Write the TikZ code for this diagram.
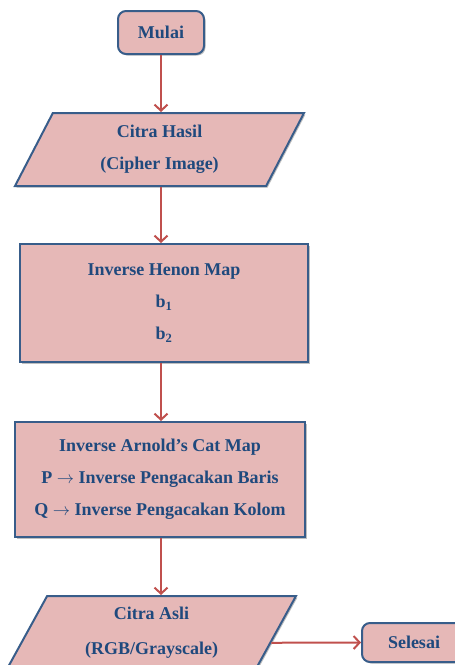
\documentclass[tikz,border=0pt]{standalone}
\usepackage{fontspec}
\setmainfont{Liberation Serif}
\usetikzlibrary{shapes.geometric,arrows.meta,shadows,calc}
\definecolor{boxfill}{RGB}{230,184,183}
\definecolor{boxline}{RGB}{56,93,138}
\definecolor{boxtext}{RGB}{31,73,125}
\definecolor{flowline}{RGB}{192,80,77}

\begin{document}
\begin{tikzpicture}
[
    x=1pt, y=-1pt,
    every node/.style={fill=boxfill, draw=boxline, line width=2pt, text=boxtext, align=center, inner sep=0pt,
        font=\fontsize{18}{32}\selectfont\bfseries,
        drop shadow={shadow xshift=1.5pt, shadow yshift=-1.5pt, opacity=0.25, fill=black}},
    terminal/.style={rounded corners=8pt},
    process/.style={rectangle},
    data/.style={trapezium, trapezium left angle=52, trapezium right angle=128, trapezium stretches body},
    flow/.style={draw=flowline, line width=2pt, -{Straight Barb[length=6pt,width=13pt]}},
]
\useasboundingbox (0,0) rectangle (455,665);
\node[terminal, minimum width=86pt, minimum height=43pt] (mulai) at (161,32.5) {Mulai};
\node[data, minimum width=289pt, minimum height=73pt] (hasil) at (159.5,149.5)
    {Citra Hasil\\(Cipher Image)};
\node[process, minimum width=288pt, minimum height=118pt] (henon) at (164,303)
    {Inverse Henon Map\\b\textsubscript{1}\\b\textsubscript{2}};
\node[process, minimum width=290pt, minimum height=115pt] (arnold) at (160,479.5)
    {Inverse Arnold's Cat Map\\P $\rightarrow$ Inverse Pengacakan Baris\\Q $\rightarrow$ Inverse Pengacakan Kolom};
\node[data, minimum width=289pt, minimum height=73pt] (asli) at (151.5,632.5)
    {Citra Asli\\[3pt](RGB/Grayscale)};
\node[terminal, minimum width=104pt, minimum height=39pt] (selesai) at (414,642.5) {Selesai};

\draw[flow] (mulai) -- (mulai |- hasil.north);
\draw[flow] (mulai |- hasil.south) -- (mulai |- henon.north);
\draw[flow] (mulai |- henon.south) -- (mulai |- arnold.north);
\draw[flow] (mulai |- arnold.south) -- (mulai |- asli.north);
\draw[flow] ($(asli.top right corner)!0.637!(asli.bottom right corner)$) -- (selesai.west);
\end{tikzpicture}
\end{document}
